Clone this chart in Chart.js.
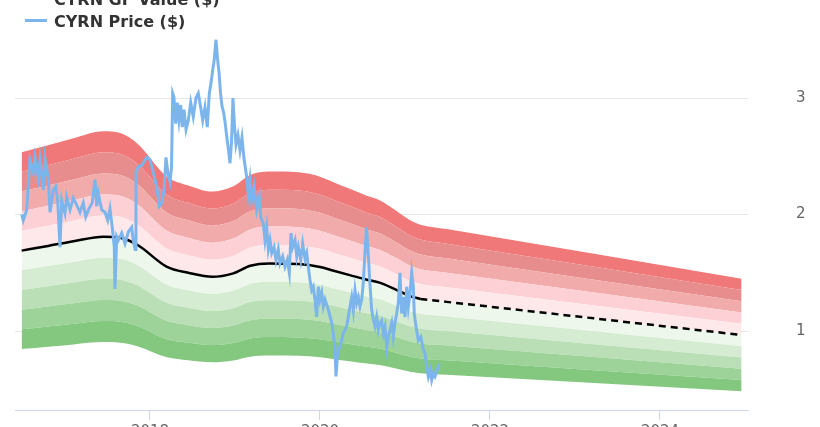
<!DOCTYPE html>
<html>
<head>
<meta charset="utf-8">
<script src="https://cdn.jsdelivr.net/npm/chart.js@4/dist/chart.umd.min.js"></script>
<style>
  html, body { margin: 0; padding: 0; background: #fff; overflow: hidden; }
  #wrap { position: relative; width: 820px; height: 427px; overflow: hidden; }
  #chartBox { position: absolute; left: 0; top: -20px; width: 820px; height: 460px; }
  .legend-item { position: absolute; left: 25px; font: bold 16px "DejaVu Sans", sans-serif; color: #333; line-height: 22px; white-space: nowrap; }
  .legend-item .swatch { display: inline-block; width: 22px; height: 3px; vertical-align: middle; margin-right: 7px; position: relative; top: -2px; }
</style>
</head>
<body>
<div id="wrap">
  <div id="chartBox"><canvas id="gfChart"></canvas></div>
  <div class="legend-item" style="top:-11px"><span class="swatch" style="background:#000"></span>CYRN GF Value ($)</div>
  <div class="legend-item" style="top:11px"><span class="swatch" style="background:#7cb5ec"></span>CYRN Price ($)</div>
</div>
<script>
// GF Value (history, solid line)
const gfYears = [2016.49, 2016.8, 2017.1, 2017.45, 2017.65, 2017.85, 2018.2, 2018.45, 2018.73, 2018.98,
  2019.18, 2019.4, 2019.75, 2020.0, 2020.15, 2020.35, 2020.55, 2020.7, 2020.88, 2021.06, 2021.18];
const gfValues = [1.69, 1.73, 1.77, 1.81, 1.80, 1.74, 1.55, 1.50, 1.465, 1.495,
  1.56, 1.58, 1.575, 1.55, 1.52, 1.48, 1.44, 1.415, 1.36, 1.30, 1.275];

// GF Value (projection, dashed line)
const projYears = [2021.18, 2021.49, 2024.96];
const projValues = [1.275, 1.25, 0.966];

// band edges as multiples of the GF Value
const bandRatios = [0.5, 0.6, 0.7, 0.8, 0.9, 1.0, 1.1, 1.2, 1.3, 1.4, 1.5];
const bandColors = ['#84c880', '#9dd299', '#badfb6', '#d5ecd2', '#eef7ec',
  '#ffe8ea', '#fdd0d5', '#f1abab', '#e88d8d', '#f07878'];

// CYRN price
const priceYears = [
  2016.491, 2016.509, 2016.549, 2016.588, 2016.627, 2016.647, 2016.686, 2016.706, 2016.745, 2016.765,
  2016.804, 2016.824, 2016.862, 2016.891, 2016.914, 2016.941, 2016.961, 2017.000, 2017.020, 2017.059,
  2017.098, 2017.138, 2017.176, 2017.215, 2017.244, 2017.282, 2017.321, 2017.353, 2017.373, 2017.392,
  2017.432, 2017.471, 2017.502, 2017.529, 2017.556, 2017.580, 2017.588, 2017.608, 2017.627, 2017.667,
  2017.706, 2017.745, 2017.785, 2017.802, 2017.824, 2017.835, 2017.862, 2017.902, 2017.961, 2018.000,
  2018.039, 2018.079, 2018.109, 2018.138, 2018.165, 2018.188, 2018.212, 2018.235, 2018.253, 2018.267,
  2018.281, 2018.302, 2018.321, 2018.341, 2018.361, 2018.380, 2018.400, 2018.424, 2018.451, 2018.479,
  2018.509, 2018.541, 2018.568, 2018.596, 2018.620, 2018.647, 2018.674, 2018.698, 2018.718, 2018.738,
  2018.756, 2018.776, 2018.794, 2018.812, 2018.829, 2018.847, 2018.865, 2018.882, 2018.906, 2018.924,
  2018.941, 2018.959, 2018.976, 2018.994, 2019.012, 2019.035, 2019.059, 2019.082, 2019.106, 2019.138,
  2019.156, 2019.176, 2019.196, 2019.224, 2019.255, 2019.286, 2019.302, 2019.333, 2019.353, 2019.373,
  2019.392, 2019.412, 2019.432, 2019.459, 2019.482, 2019.509, 2019.529, 2019.561, 2019.588, 2019.615,
  2019.639, 2019.659, 2019.679, 2019.706, 2019.726, 2019.745, 2019.773, 2019.796, 2019.824, 2019.844,
  2019.862, 2019.882, 2019.902, 2019.921, 2019.941, 2019.961, 2019.980, 2020.000, 2020.020, 2020.039,
  2020.059, 2020.098, 2020.138, 2020.156, 2020.176, 2020.188, 2020.204, 2020.227, 2020.255, 2020.274,
  2020.314, 2020.353, 2020.373, 2020.392, 2020.412, 2020.432, 2020.451, 2020.471, 2020.491, 2020.509,
  2020.529, 2020.547, 2020.568, 2020.588, 2020.608, 2020.627, 2020.647, 2020.667, 2020.686, 2020.706,
  2020.726, 2020.745, 2020.765, 2020.785, 2020.804, 2020.824, 2020.844, 2020.862, 2020.882, 2020.902,
  2020.921, 2020.941, 2020.961, 2020.980, 2021.000, 2021.020, 2021.039, 2021.059, 2021.079, 2021.098,
  2021.109, 2021.129, 2021.156, 2021.185, 2021.215, 2021.235, 2021.255, 2021.274, 2021.294, 2021.314,
  2021.333, 2021.353, 2021.380, 2021.404
];
const priceValues = [
  2.00, 1.95, 2.04, 2.47, 2.36, 2.49, 2.32, 2.47, 2.21, 2.48,
  2.30, 2.02, 2.21, 2.24, 2.12, 1.72, 2.12, 2.01, 2.15, 2.04,
  2.14, 2.08, 2.02, 2.10, 1.98, 2.05, 2.10, 2.30, 2.07, 2.18,
  2.04, 2.02, 1.95, 2.05, 1.89, 1.72, 1.36, 1.81, 1.78, 1.84,
  1.75, 1.85, 1.89, 1.78, 1.70, 2.36, 2.41, 2.42, 2.49, 2.47,
  2.36, 2.24, 2.07, 2.10, 2.21, 2.49, 2.35, 2.28, 2.40, 3.04,
  3.01, 2.78, 2.96, 2.81, 2.94, 2.75, 2.90, 2.73, 2.81, 2.96,
  2.84, 3.00, 3.04, 2.92, 2.81, 2.92, 2.75, 3.04, 3.13, 3.24,
  3.33, 3.50, 3.34, 3.22, 3.05, 2.93, 2.88, 2.80, 2.65, 2.55,
  2.44, 2.62, 3.00, 2.76, 2.60, 2.68, 2.55, 2.66, 2.48, 2.32,
  2.18, 2.30, 2.12, 2.24, 2.04, 2.15, 1.98, 1.92, 1.78, 1.89,
  1.70, 1.78, 1.67, 1.72, 1.61, 1.70, 1.58, 1.64, 1.55, 1.61,
  1.50, 1.84, 1.72, 1.78, 1.64, 1.72, 1.61, 1.75, 1.62, 1.67,
  1.55, 1.44, 1.35, 1.38, 1.27, 1.12, 1.38, 1.27, 1.33, 1.21,
  1.27, 1.18, 1.07, 0.98, 0.86, 0.61, 0.78, 0.86, 0.92, 0.98,
  1.04, 1.21, 1.29, 1.18, 1.35, 1.24, 1.29, 1.21, 1.27, 1.41,
  1.67, 1.89, 1.66, 1.40, 1.18, 1.10, 1.04, 1.12, 1.01, 1.07,
  1.09, 0.98, 1.04, 0.86, 0.95, 1.01, 1.07, 0.95, 1.07, 1.15,
  1.24, 1.50, 1.15, 1.29, 1.12, 1.38, 1.21, 1.33, 1.50, 1.38,
  1.15, 1.04, 0.92, 0.95, 0.84, 0.81, 0.69, 0.61, 0.67, 0.58,
  0.64, 0.61, 0.67, 0.72
];

// axis ticks
const xTicks = [2018, 2020, 2022, 2024];
const yTicks = [1, 2, 3];

const toPoints = (xs, ys) => xs.map((x, i) => ({ x: x, y: ys[i] }));

const allGfYears = gfYears.concat(projYears.slice(1));
const allGfValues = gfValues.concat(projValues.slice(1));

const bandSets = bandRatios.map((r, i) => ({
  data: toPoints(allGfYears, allGfValues.map(v => v * r)),
  borderWidth: 0,
  pointRadius: 0,
  backgroundColor: i === 0 ? 'transparent' : bandColors[i - 1],
  fill: i === 0 ? false : '-1',
  cubicInterpolationMode: 'monotone',
  order: 10
}));

// keep the axes from adding their own label padding to the layout
const noPad = (scale) => {
  scale.paddingTop = 0;
  scale.paddingBottom = 0;
  scale.paddingLeft = 0;
  scale.paddingRight = 0;
};

const ctx = document.getElementById('gfChart').getContext('2d');

const gfChart = new Chart(ctx, {
  type: 'line',
  data: {
    datasets: [
      {
        label: 'CYRN Price ($)',
        data: toPoints(priceYears, priceValues),
        borderColor: '#7cb5ec',
        borderWidth: 3,
        pointRadius: 0,
        tension: 0,
        fill: false,
        order: 0
      },
      {
        label: 'CYRN GF Value ($)',
        data: toPoints(gfYears, gfValues),
        borderColor: '#000',
        borderWidth: 2.5,
        pointRadius: 0,
        cubicInterpolationMode: 'monotone',
        fill: false,
        order: 1
      },
      {
        label: 'GF Value projection',
        data: toPoints(projYears, projValues),
        borderColor: '#000',
        borderWidth: 2.5,
        borderDash: [7, 5],
        pointRadius: 0,
        cubicInterpolationMode: 'monotone',
        fill: false,
        order: 1
      },
      ...bandSets
    ]
  },
  options: {
    responsive: true,
    maintainAspectRatio: false,
    animation: false,
    layout: { padding: { left: 15, right: 0, top: 50, bottom: 0 } },
    plugins: {
      legend: { display: false },
      tooltip: { enabled: false }
    },
    scales: {
      x: {
        type: 'linear',
        min: 2016.4118,
        max: 2025.0353,
        afterBuildTicks: (scale) => { scale.ticks = xTicks.map(v => ({ value: v })); },
        afterFit: (scale) => { scale.height = 30; noPad(scale); },
        grid: { drawOnChartArea: false, drawTicks: true, tickLength: 10, color: '#ccd6eb' },
        border: { display: true, color: '#ccd6eb', width: 1 },
        ticks: {
          padding: 3,
          color: '#666',
          font: { family: 'DejaVu Sans', size: 15 },
          maxRotation: 0,
          callback: (v) => String(v)
        }
      },
      y: {
        type: 'linear',
        position: 'right',
        min: 0.3219,
        max: 3.5837,
        afterBuildTicks: (scale) => { scale.ticks = yTicks.map(v => ({ value: v })); },
        afterFit: (scale) => { scale.width = 72; noPad(scale); },
        grid: { color: '#e6e6e6', drawTicks: false },
        border: { display: false },
        ticks: {
          padding: 48,
          color: '#666',
          font: { family: 'DejaVu Sans', size: 15 },
          callback: (v) => String(v)
        }
      }
    }
  }
});
</script>
</body>
</html>
